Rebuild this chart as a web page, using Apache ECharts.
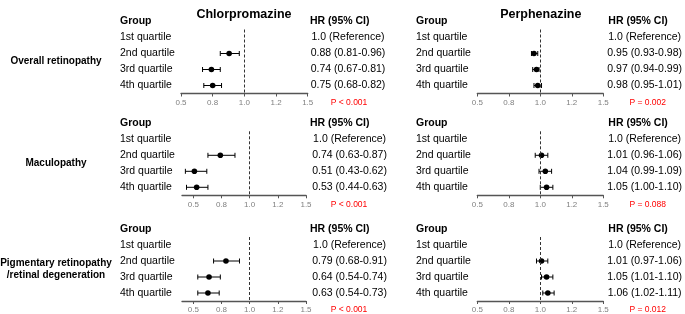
<!DOCTYPE html>
<html>
<head>
<meta charset="utf-8">
<script src="https://cdn.jsdelivr.net/npm/echarts@6/dist/echarts.min.js"></script>
<style>
  html, body { margin: 0; padding: 0; background: #fff; }
  #chart { width: 685px; height: 314px; }
</style>
</head>
<body>
<div id="chart"></div>
<script>
// forest plot: HR by dose quartile, two drugs x three outcomes
const drugs = ['Chlorpromazine', 'Perphenazine']
const outcomes = ['Overall retinopathy', 'Maculopathy', 'Pigmentary retinopathy\n/retinal degeneration']
const quartiles = ['1st quartile', '2nd quartile', '3rd quartile', '4th quartile']

// [hr, lower, upper] for 2nd..4th quartile (1st is reference)
const cpzOverall = [[0.88, 0.81, 0.96], [0.74, 0.67, 0.81], [0.75, 0.68, 0.82]]
const cpzMacula = [[0.74, 0.63, 0.87], [0.51, 0.43, 0.62], [0.53, 0.44, 0.63]]
const cpzPigment = [[0.79, 0.68, 0.91], [0.64, 0.54, 0.74], [0.63, 0.54, 0.73]]
const phzOverall = [[0.95, 0.93, 0.98], [0.97, 0.94, 0.99], [0.98, 0.95, 1.01]]
const phzMacula = [[1.01, 0.96, 1.06], [1.04, 0.99, 1.09], [1.05, 1.0, 1.1]]
const phzPigment = [[1.01, 0.97, 1.06], [1.05, 1.01, 1.1], [1.06, 1.02, 1.11]]

const pValues = [
  ['P < 0.001', 'P = 0.002'],
  ['P < 0.001', 'P = 0.088'],
  ['P < 0.001', 'P = 0.012'],
]

const tickValues = [0.5, 0.75, 1, 1.25, 1.5]
const tickLabels = ['0.5', '0.8', '1.0', '1.2', '1.5']
const axisMin = [[0.5, 0.5], [0.4, 0.5], [0.4, 0.5]]

const panelData = [
  [cpzOverall, phzOverall],
  [cpzMacula, phzMacula],
  [cpzPigment, phzPigment],
]

const FONT = '"Liberation Sans", Arial, sans-serif'

// layout
const rowTop = [29.5, 131.3, 237]
const BAND = 16
const colLayout = [
  // [gridLeft, gridWidth, leftMargin, rightMargin, groupX, hrX, pX]
  { left: [181, 182, 182], width: [126.7, 124, 124], lm: [61, 62, 62], rm: [40.3, 43.6, 43.6], groupX: 120, hrX: 310, pX: 349, titleX: 244 },
  { left: [477.3, 477.3, 477.3], width: [127, 127, 127], lm: [61.3, 61.3, 61.3], rm: [41.4, 41.4, 41.4], groupX: 416, hrX: 608.3, pX: 647.7, titleX: 540.8 },
]

const fmt = (v) => v.toFixed(2)
function hrLabels(rows) {
  return ['1.0 (Reference)'].concat(rows.map((r) => `${fmt(r[0])} (${fmt(r[1])}-${fmt(r[2])})`))
}

function renderCI(params, api) {
  const y = api.value(0)
  const hr = api.coord([api.value(1), y])
  const lo = api.coord([api.value(2), y])
  const hi = api.coord([api.value(3), y])
  const stroke = { stroke: '#000', lineWidth: 1 }
  const cap = 2.5
  return {
    type: 'group',
    children: [
      { type: 'line', shape: { x1: lo[0], y1: lo[1], x2: hi[0], y2: hi[1] }, style: stroke },
      { type: 'line', shape: { x1: lo[0], y1: lo[1] - cap, x2: lo[0], y2: lo[1] + cap }, style: stroke },
      { type: 'line', shape: { x1: hi[0], y1: hi[1] - cap, x2: hi[0], y2: hi[1] + cap }, style: stroke },
      { type: 'circle', shape: { cx: hr[0], cy: hr[1], r: 2.8 }, style: { fill: '#000' } },
    ],
  }
}

const grid = []
const xAxis = []
const yAxis = []
const series = []
const graphic = []

drugs.forEach((drug, c) => {
  graphic.push({
    type: 'text', x: colLayout[c].titleX, y: 15,
    style: { text: drug, font: `bold 12.5px ${FONT}`, fill: '#000', align: 'center', verticalAlign: 'middle' },
  })
})

outcomes.forEach((outcome, r) => {
  const top = rowTop[r]
  graphic.push({
    type: 'text', x: 56, y: top + BAND * 2,
    style: { text: outcome, font: `bold 10px ${FONT}`, fill: '#000', align: 'center', verticalAlign: 'middle', lineHeight: 12 },
  })
  drugs.forEach((drug, c) => {
    const L = colLayout[c]
    const gi = grid.length
    grid.push({ left: L.left[r], top: top, width: L.width[r], height: BAND * 4 })
    xAxis.push({
      gridIndex: gi, type: 'value', min: axisMin[r][c], max: 1.5,
      axisLine: { show: true, lineStyle: { color: '#555', width: 1.3 } },
      axisTick: { show: true, length: 3, customValues: tickValues, lineStyle: { color: '#555', width: 1 } },
      axisLabel: {
        customValues: tickValues, margin: 5, fontSize: 8, color: '#808080', fontFamily: FONT,
        formatter: (v) => tickLabels[tickValues.findIndex((t) => Math.abs(t - v) < 1e-6)],
      },
      splitLine: { show: false },
    })
    yAxis.push({
      gridIndex: gi, type: 'category', data: quartiles, inverse: true,
      axisLine: { show: false }, axisTick: { show: false },
      axisLabel: { align: 'left', margin: L.lm[r], fontSize: 10.5, color: '#000', fontFamily: FONT },
    })
    yAxis.push({
      gridIndex: gi, type: 'category', position: 'right', data: hrLabels(panelData[r][c]), inverse: true,
      axisLine: { show: false }, axisTick: { show: false },
      axisLabel: { align: 'center', margin: L.rm[r], fontSize: 10.5, color: '#000', fontFamily: FONT },
    })
    series.push({
      type: 'custom',
      xAxisIndex: gi,
      yAxisIndex: gi * 2,
      renderItem: renderCI,
      encode: { x: [1, 2, 3], y: 0 },
      data: panelData[r][c].map((d, i) => [i + 1, d[0], d[1], d[2]]),
      silent: true,
      markLine: {
        silent: true,
        symbol: ['none', 'none'],
        label: { show: false },
        lineStyle: { type: [3, 2], color: '#333', width: 1 },
        data: [{ xAxis: 1 }],
      },
    })
    const headY = top + BAND / 2 - BAND
    graphic.push(
      {
        type: 'text', x: L.groupX, y: headY,
        style: { text: 'Group', font: `bold 10.5px ${FONT}`, fill: '#000', align: 'left', verticalAlign: 'middle' },
      },
      {
        type: 'text', x: L.hrX, y: headY,
        style: { text: 'HR (95% CI)', font: `bold 10.5px ${FONT}`, fill: '#000', align: 'left', verticalAlign: 'middle' },
      },
      {
        type: 'text', x: L.pX, y: top + BAND * 4 + 9,
        style: { text: pValues[r][c], font: `8.5px ${FONT}`, fill: '#ff0000', align: 'center', verticalAlign: 'middle' },
      },
    )
  })
})

const chart = echarts.init(document.getElementById('chart'), null, { renderer: 'canvas' })
chart.setOption({
  animation: false,
  backgroundColor: '#fff',
  grid, xAxis, yAxis, series, graphic,
})
</script>
</body>
</html>
